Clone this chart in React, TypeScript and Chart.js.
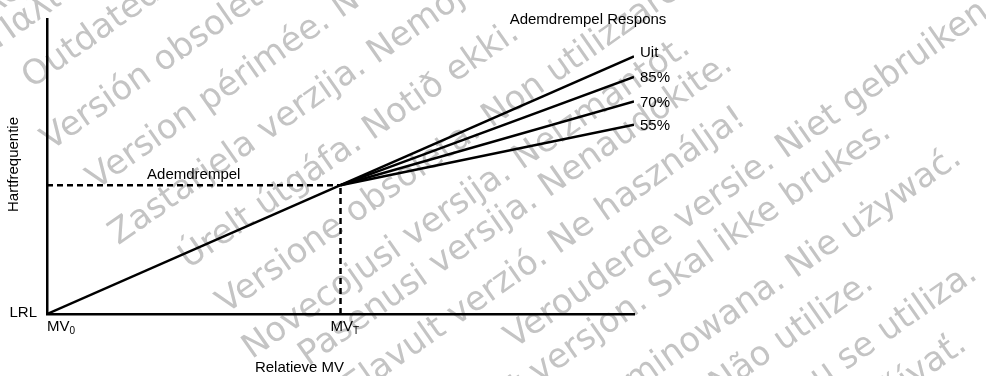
import React, { useEffect, useRef } from "react";
import { Chart, registerables } from "chart.js";

Chart.register(...registerables);

// ---- data ----
const mvValues = [0, 1, 2]; // MV0, MVT, end of axis
const baseHeartRate = [0, 1]; // LRL -> threshold
const responseLabels = ["Uit", "85%", "70%", "55%"];
const responseEnd = [2.0, 1.84, 1.65, 1.47];
const xMax = 2.0;
const yMax = 2.29;
const axisTitleX = "Relatieve MV";
const axisTitleY = "Hartfrequentie";
const thresholdLabel = "Ademdrempel";
const responseTitle = "Ademdrempel Respons";
const watermarkLines = [
  "Forældet version. Må ikke anvendes.",
  "Version überholt. Nicht verwenden.",
  "Aegunud versioon. Ärge kasutage.",
  "Παλιά έκδοση. Μην την χρησιμοποιείτε.",
  "Outdated version. Do not use.",
  "Versión obsoleta. No utilizar.",
  "Version périmée. Ne pas utiliser.",
  "Zastarjela verzija. Nemojte upotrebljavati.",
  "Úrelt útgáfa. Notið ekki.",
  "Versione obsoleta. Non utilizzare.",
  "Novecojusi versija. Neizmantot.",
  "Pasenusi versija. Nenaudokite.",
  "Elavult verzió. Ne használja!",
  "Verouderde versie. Niet gebruiken.",
  "Foreldet versjon. Skal ikke brukes.",
  "Wersja przeterminowana. Nie używać.",
  "Versão obsoleta. Não utilize.",
  "Versiune expirată. A nu se utiliza.",
  "Zastaraná verzia. Nepoužívať.",
  "Zastarela različica. Ne uporabite.",
  "Vanhentunut versio. Älä käytä.",
];

const FONT = "'Liberation Sans', Arial, sans-serif";

// watermark layout (decorative layer, drawn in a rotated frame)
const WM_ANGLE = -35;
const WM_SPACING = 52;
const WM_FIRST = -104;
const wmStarts = [-20, -20, -20, -30, -25, -45, -30, -44, 0, 5, 0, 42, 60, 221, 72, 47, 69, 73, 82, 60, 60];
const wmShift = [0, 0, 0, -22, -22, -12, -6, 0, 8, 14, 14, 0, 0, 0, -10, 0, 0, 0, 0, 0, 0];

const watermarkPlugin = {
  id: "watermark",
  beforeDraw(chart: any) {
    const ctx = chart.ctx;
    ctx.save();
    ctx.fillStyle = "#c4c4c4";
    ctx.font = "34px 'DejaVu Sans', Verdana, sans-serif";
    ctx.textAlign = "left";
    ctx.textBaseline = "middle";
    ctx.rotate((WM_ANGLE * Math.PI) / 180);
    watermarkLines.forEach((t, i) => {
      ctx.fillText(t, wmStarts[i] ?? -20, WM_FIRST + i * WM_SPACING + (wmShift[i] ?? 0));
    });
    ctx.restore();
  },
};

const annotationPlugin = {
  id: "annotations",
  afterDraw(chart: any) {
    const ctx = chart.ctx;
    const xs = chart.scales.x;
    const ys = chart.scales.y;
    const x0 = xs.getPixelForValue(mvValues[0]);
    const xT = xs.getPixelForValue(mvValues[1]);
    const xE = xs.getPixelForValue(mvValues[2]);
    const y0 = ys.getPixelForValue(baseHeartRate[0]);
    const yT = ys.getPixelForValue(baseHeartRate[1]);
    ctx.save();
    ctx.fillStyle = "#000";
    ctx.font = `15px ${FONT}`;
    ctx.textBaseline = "middle";

    // response labels
    ctx.textAlign = "left";
    responseLabels.forEach((l, i) => {
      const y = ys.getPixelForValue(responseEnd[i]) - (i === 0 ? 3 : -1);
      ctx.fillText(l, xE + 6, y);
    });
    ctx.textAlign = "center";
    ctx.fillText(responseTitle, xE - 46, chart.chartArea.top + 1);

    // threshold label
    ctx.fillText(thresholdLabel, (x0 + xT) / 2, yT - 10);

    // LRL
    ctx.textAlign = "right";
    ctx.fillText("LRL", x0 - 10, y0 - 1);

    // MV0 / MVT
    const sub = (main: string, s: string, x: number, y: number) => {
      ctx.textAlign = "left";
      ctx.font = `15px ${FONT}`;
      ctx.fillText(main, x, y);
      const w = ctx.measureText(main).width;
      ctx.font = `10px ${FONT}`;
      ctx.fillText(s, x + w, y + 4);
      ctx.font = `15px ${FONT}`;
    };
    sub("MV", "0", x0, y0 + 13);
    sub("MV", "T", xT - 10, y0 + 13);

    // axis titles
    ctx.textAlign = "center";
    ctx.fillText(axisTitleX, xT - 41, y0 + 54);
    ctx.save();
    ctx.translate(14, (chart.chartArea.top + y0) / 2 - 2);
    ctx.rotate(-Math.PI / 2);
    ctx.fillText(axisTitleY, 0, 0);
    ctx.restore();
    ctx.restore();
  },
};

export default function App() {
  const ref = useRef<HTMLCanvasElement | null>(null);
  useEffect(() => {
    document.body.style.margin = "0";
    const canvas = ref.current!;
    const solid = { borderColor: "#000", borderWidth: 2.5, pointRadius: 0, fill: false, tension: 0 };
    const dashed = { ...solid, borderDash: [6, 4] };
    const datasets: any[] = [
      {
        ...solid,
        label: "base",
        data: [
          { x: mvValues[0], y: baseHeartRate[0] },
          { x: mvValues[1], y: baseHeartRate[1] },
        ],
      },
      ...responseLabels.map((l, i) => ({
        ...solid,
        label: l,
        data: [
          { x: mvValues[1], y: baseHeartRate[1] },
          { x: mvValues[2], y: responseEnd[i] },
        ],
      })),
      {
        ...dashed,
        label: "thrH",
        data: [
          { x: mvValues[0], y: baseHeartRate[1] },
          { x: mvValues[1], y: baseHeartRate[1] },
        ],
      },
      {
        ...dashed,
        label: "thrV",
        data: [
          { x: mvValues[1], y: baseHeartRate[0] },
          { x: mvValues[1], y: baseHeartRate[1] },
        ],
      },
    ];
    const axis = {
      type: "linear" as const,
      display: true,
      grid: { display: false, drawTicks: false },
      ticks: { display: false },
      border: { display: true, color: "#000", width: 2.5 },
    };
    const chart = new Chart(canvas, {
      type: "line",
      data: { datasets },
      options: {
        animation: false,
        responsive: false,
        maintainAspectRatio: false,
        layout: { padding: { left: 47, top: 19, right: 352, bottom: 62 } },
        plugins: { legend: { display: false }, tooltip: { enabled: false } },
        scales: {
          x: { ...axis, min: 0, max: xMax },
          y: { ...axis, min: 0, max: yMax },
        },
      },
      plugins: [watermarkPlugin, annotationPlugin],
    });
    return () => chart.destroy();
  }, []);
  return (
    <div style={{ width: 986, height: 376, background: "#fff" }}>
      <canvas ref={ref} width={986} height={376} style={{ display: "block" }} />
    </div>
  );
}
